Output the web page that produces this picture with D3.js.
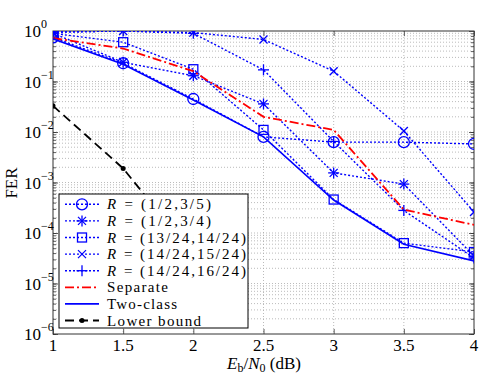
<!DOCTYPE html>
<html><head><meta charset="utf-8">
<script src="https://cdn.jsdelivr.net/npm/d3@7/dist/d3.min.js"></script>
<style>body{margin:0;background:#fff}svg{display:block}</style>
</head><body>
<svg id="c" width="498" height="375"></svg>
<script>
const snr = [1, 1.5, 2, 2.5, 3, 3.5, 4];
const rHalf35 = [0.75, 0.23, 0.045, 0.008, 0.0063, 0.0063, 0.0058];
const rHalf34 = [0.9, 0.24, 0.13, 0.036, 0.00155, 0.00093, 0.000035];
const r1324 = [0.9, 0.6, 0.175, 0.011, 0.00046, 0.000063, 0.000042];
const r1415 = [0.95, 1.0, 0.93, 0.68, 0.16, 0.0105, 0.00026];
const r1416 = [0.95, 1.0, 0.9, 0.17, 0.0065, 0.00028, 0.000032];
const separate = [0.72, 0.45, 0.16, 0.02, 0.011, 0.00029, 0.000145];
const twoClass = [0.7, 0.22, 0.043, 0.008, 0.00045, 0.00006, 0.000028];
const lbSnr = [1, 1.5, 2];
const lowerBound = [0.033, 0.0019, 0.000036];
const xTicks = [1, 1.5, 2, 2.5, 3, 3.5, 4];
const yExps = [0, -1, -2, -3, -4, -5, -6];
const legendLabels = ["(1/2,3/5)", "(1/2,3/4)", "(13/24,14/24)", "(14/24,15/24)", "(14/24,16/24)", "Separate", "Two-class", "Lower bound"];
const legendWidths = [104, 104, 139, 139, 139, 61, 70, 94];

const svg = d3.select("#c");
const L = 53, R = 474, T = 31, B = 334;
const x = d3.scaleLinear().domain([1, 4]).range([L, R]);
const y = d3.scaleLog().domain([1e-6, 1]).range([B, T]);
const FONT = "Liberation Serif";
const BLUE = "#0000ff";

svg.append("defs").append("clipPath").attr("id", "clip")
  .append("rect").attr("x", L).attr("y", T).attr("width", R - L).attr("height", B - T);

const g = svg.append("g");
xTicks.slice(1, -1).forEach(v => {
  g.append("line").attr("x1", x(v)).attr("x2", x(v)).attr("y1", T).attr("y2", B)
    .attr("stroke", "#aaa").attr("stroke-width", 0.8).attr("stroke-dasharray", "1,2");
});
const minorVals = [];
for (let e = -6; e < 0; e++) for (let m = 1; m <= 9; m++) minorVals.push(m * Math.pow(10, e));
minorVals.forEach(v => {
  if (v <= 1e-6 * 1.0001) return;
  g.append("line").attr("x1", L).attr("x2", R).attr("y1", y(v)).attr("y2", y(v))
    .attr("stroke", "#aaa").attr("stroke-width", 0.8).attr("stroke-dasharray", "1,2");
});

const ax = svg.append("g");
ax.append("g").attr("transform", `translate(0,${B})`).call(d3.axisBottom(x).tickValues(xTicks).tickSize(-5).tickFormat(""));
ax.append("g").attr("transform", `translate(0,${T})`).call(d3.axisTop(x).tickValues(xTicks).tickSize(-5).tickFormat(""));
const yMajor = yExps.map(e => Math.pow(10, e));
ax.append("g").attr("transform", `translate(${L},0)`).call(d3.axisLeft(y).tickValues(yMajor).tickSize(-5).tickFormat(""));
ax.append("g").attr("transform", `translate(${R},0)`).call(d3.axisRight(y).tickValues(yMajor).tickSize(-5).tickFormat(""));
ax.append("g").attr("transform", `translate(${L},0)`).call(d3.axisLeft(y).tickValues(minorVals).tickSize(-3).tickFormat(""));
ax.append("g").attr("transform", `translate(${R},0)`).call(d3.axisRight(y).tickValues(minorVals).tickSize(-3).tickFormat(""));
ax.selectAll(".domain").remove();
ax.selectAll("line").attr("stroke", "#333").attr("stroke-width", 0.8);
svg.append("rect").attr("x", L).attr("y", T).attr("width", R - L).attr("height", B - T)
  .attr("fill", "none").attr("stroke", "#333").attr("stroke-width", 1);

xTicks.forEach(v => {
  svg.append("text").attr("x", x(v)).attr("y", 351).attr("text-anchor", "middle")
    .style("font-family", FONT).attr("font-size", 17).text(v);
});
yExps.forEach(e => {
  svg.append("text").attr("x", 41).attr("y", y(Math.pow(10, e)) + 6).attr("text-anchor", "end")
    .style("font-family", FONT).attr("font-size", 17).text("10");
  svg.append("text").attr("x", 41).attr("y", y(Math.pow(10, e)) - 3)
    .style("font-family", FONT).attr("font-size", 12).text(String(e).replace("-", "\u2212"));
});
const xl = svg.append("text").attr("x", 264).attr("y", 369).attr("text-anchor", "middle")
  .style("font-family", FONT).attr("font-size", 17);
xl.append("tspan").attr("font-style", "italic").text("E");
xl.append("tspan").attr("font-size", 12).attr("dy", 3).text("b");
xl.append("tspan").attr("dy", -3).text("/");
xl.append("tspan").attr("font-style", "italic").text("N");
xl.append("tspan").attr("font-size", 12).attr("dy", 3).text("0");
xl.append("tspan").attr("dy", -3).text(" (dB)");
svg.append("text").attr("transform", "translate(17,183) rotate(-90)").attr("text-anchor", "middle")
  .style("font-family", FONT).attr("font-size", 17).text("FER");

function marker(sel, type, cx, cy, color) {
  const s = sel.append("g").attr("transform", `translate(${cx},${cy})`)
    .attr("stroke", color).attr("fill", "none").attr("stroke-width", 1.3);
  if (type === "circle") s.append("circle").attr("r", 5.5);
  if (type === "square") s.append("rect").attr("x", -4.5).attr("y", -4.5).attr("width", 9).attr("height", 9);
  if (type === "x" || type === "star") {
    s.append("line").attr("x1", -4).attr("y1", -4).attr("x2", 4).attr("y2", 4);
    s.append("line").attr("x1", -4).attr("y1", 4).attr("x2", 4).attr("y2", -4);
  }
  if (type === "plus" || type === "star") {
    s.append("line").attr("x1", -5.5).attr("y1", 0).attr("x2", 5.5).attr("y2", 0);
    s.append("line").attr("x1", 0).attr("y1", -5.5).attr("x2", 0).attr("y2", 5.5);
  }
  if (type === "dot") s.append("circle").attr("r", 2.5).attr("fill", color).attr("stroke", "none");
}

const series = [
  { xs: snr, ys: rHalf35, color: BLUE, dash: "2,2", w: 1.4, m: "circle" },
  { xs: snr, ys: rHalf34, color: BLUE, dash: "2,2", w: 1.4, m: "star" },
  { xs: snr, ys: r1324, color: BLUE, dash: "2,2", w: 1.4, m: "square" },
  { xs: snr, ys: r1415, color: BLUE, dash: "2,2", w: 1.4, m: "x" },
  { xs: snr, ys: r1416, color: BLUE, dash: "2,2", w: 1.4, m: "plus" },
  { xs: snr, ys: separate, color: "#ff0000", dash: "9,3,2,3", w: 1.8, m: null },
  { xs: snr, ys: twoClass, color: BLUE, dash: null, w: 1.6, m: null },
  { xs: lbSnr, ys: lowerBound, color: "#000", dash: "9,5", w: 1.8, m: "dot" }
];

const plot = svg.append("g").attr("clip-path", "url(#clip)");
const line = d3.line().x(d => x(d[0])).y(d => y(d[1]));
series.forEach(s => {
  const pts = s.xs.map((v, i) => [v, s.ys[i]]);
  plot.append("path").attr("d", line(pts)).attr("fill", "none").attr("stroke", s.color)
    .attr("stroke-width", s.w).attr("stroke-dasharray", s.dash);
  if (s.m) pts.forEach(p => marker(plot, s.m, x(p[0]), y(p[1]), s.color));
});

const lg = svg.append("g");
lg.append("rect").attr("x", 59).attr("y", 194).attr("width", 189).attr("height", 134)
  .attr("fill", "#fff").attr("stroke", "#000").attr("stroke-width", 1);
series.forEach((s, i) => {
  const cy = 204.3 + i * 16.6;
  lg.append("line").attr("x1", 65).attr("x2", 99).attr("y1", cy).attr("y2", cy)
    .attr("stroke", s.color).attr("stroke-width", s.w).attr("stroke-dasharray", s.dash);
  if (s.m) marker(lg, s.m, 82, cy, s.color);
  const t = lg.append("text").attr("x", 107).attr("y", cy + 5).style("font-family", FONT).attr("font-size", 15)
    .attr("textLength", legendWidths[i]).attr("lengthAdjust", "spacing");
  if (i < 5) {
    t.append("tspan").attr("font-style", "italic").text("R");
    t.append("tspan").text(" = " + legendLabels[i]);
  } else t.text(legendLabels[i]);
});
</script>
</body></html>
